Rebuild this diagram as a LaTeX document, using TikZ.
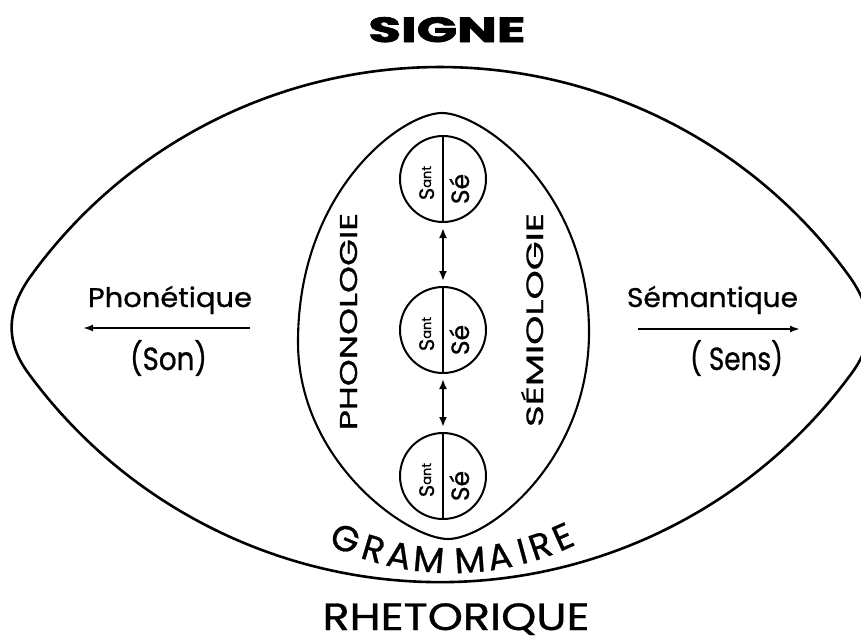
\documentclass[tikz,border=0pt]{standalone}
\usepackage{fontspec}
\usepackage{graphicx}
\usetikzlibrary{arrows.meta}
\newfontfamily\fut[FakeBold=0.8,BoldFeatures={FakeBold=2}]{Poppins}
\newcommand{\fw}[3]{\resizebox{#1pt}{\height}{\fut\fontsize{#2}{#2}\selectfont #3}}
\newcommand{\sant}{\fut\fontsize{21}{21}\selectfont S\raisebox{3pt}{\fontsize{13}{13}\selectfont ant}}
\newcommand{\seh}{\fut\fontsize{25}{25}\selectfont Sé}
\begin{document}
\begin{tikzpicture}[x=1pt,y=-1pt,
  lbl/.style={inner sep=0pt,outer sep=0pt,anchor=base},
  outerline/.style={line width=2.6pt},
  innerline/.style={line width=2.1pt},
  circ/.style={circle,draw,line width=2pt,minimum size=86pt,inner sep=0pt,outer sep=0pt},
  arr/.style={line width=2pt,-{Latex[length=10pt,width=7pt]}},
  darr/.style={line width=2.2pt,{Latex[length=10pt,width=8pt]}-{Latex[length=10pt,width=8pt]},shorten <=6pt,shorten >=6pt}]
\clip (0,0) rectangle (861,642);
\fill[white] (0,0) rectangle (861,642);

% outer lens
\draw[outerline] (31.4,275.2) arc[start angle=216, end angle=324, radius=505]
  .. controls (872.1,307.4) and (876.1,339.4) .. (852.6,371.9)
  arc[start angle=36, end angle=144, radius=510]
  .. controls (3.9,339.4) and (7.9,307.4) .. cycle;

% inner oval
\draw[innerline] (442,113) .. controls (482,113) and (589,190) .. (589,332)
  .. controls (589,462) and (488,539) .. (448,539)
  .. controls (408,539) and (298,462) .. (298,342)
  .. controls (298,190) and (402,113) .. cycle;

% titles
\node[lbl] (signe) at (447,42) {\resizebox{157pt}{\height}{\fut\bfseries\fontsize{35}{35}\selectfont SIGNE}};
\node[lbl] (rhet) at (456,630) {\fw{267}{38}{RHETORIQUE}};

% side texts
\node[lbl] (phon) at (170,307) {\fw{164}{27}{Phonétique}};
\node[lbl] (son) at (168.5,370) {\fw{77}{32}{(Son)}};
\node[lbl] (sem) at (712.5,307) {\fw{171}{27}{Sémantique}};
\node[lbl] (sens) at (736.5,370) {\fw{93}{32}{( Sens)}};

\coordinate (la) at (250,328);
\coordinate (lb) at (83,328);
\coordinate (ra) at (638,329);
\coordinate (rb) at (800,329);
\draw[arr] (la) -- (lb);
\draw[arr] (ra) -- (rb);

% vertical words
\node[lbl,rotate=90] (phono) at (357,321.5) {\fw{217}{24.3}{PHONOLOGIE}};
\node[lbl,rotate=90] (semio) at (543,320) {\fw{214}{23.6}{SÉMIOLOGIE}};

% circles
\node[circ] (c1) at (443,179) {};
\node[circ] (c2) at (443,330) {};
\node[circ] (c3) at (443,476) {};
\foreach \c in {c1,c2,c3}{\draw[line width=2pt] (\c.north) -- (\c.south);}

\node[lbl,rotate=90] (s1a) at (434,183) {\sant};
\node[lbl,rotate=90] (s1b) at (469,189) {\seh};
\node[lbl,rotate=90] (s2a) at (434,334) {\sant};
\node[lbl,rotate=90] (s2b) at (469,340) {\seh};
\node[lbl,rotate=90] (s3a) at (434,480) {\sant};
\node[lbl,rotate=90] (s3b) at (469,486) {\seh};

\draw[darr] (c1.south) -- (c2.north);
\draw[darr] (c2.south) -- (c3.north);

% GRAMMAIRE along an arc
\foreach \l/\a [count=\i] in {G/113.1,R/106.8,A/101.2,M/94.9,M/86.2,A/79.9,I/75.0,R/71.0,E/65.9}{
  \node[lbl,rotate=90-\a] (g\i) at ({452+284*cos(\a)},{289+284*sin(\a)}) {\fut\fontsize{36}{36}\selectfont \l};
}
\end{tikzpicture}
\end{document}
